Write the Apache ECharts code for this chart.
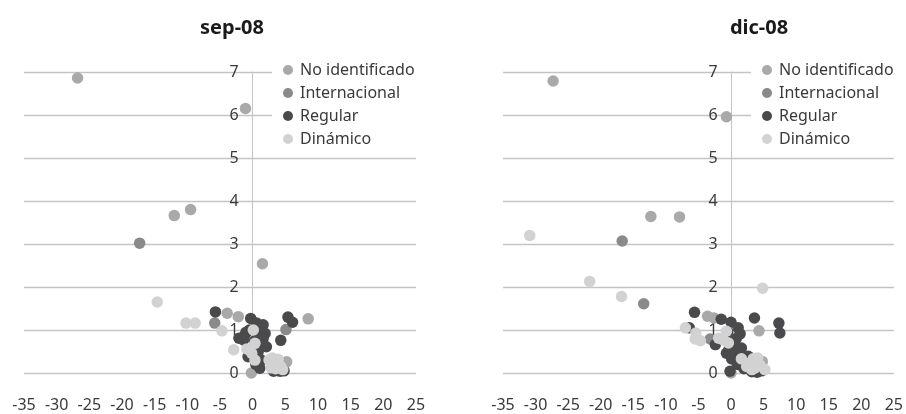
<!DOCTYPE html>
<html><head><meta charset="utf-8">
<script src="https://cdn.jsdelivr.net/npm/echarts@6/dist/echarts.min.js"></script>
<style>html,body{margin:0;padding:0;background:#fff}#c{width:906px;height:414px}</style>
</head><body><div id="c"></div>
<script>
const titles = ['sep-08', 'dic-08'];
const seriesNames = ['No identificado', 'Internacional', 'Regular', 'Dinámico'];
const xTicks = [-35, 25, 5];
const yTicks = [0, 7, 1];

const noIdSep = [[-26.8,6.86],[-1.1,6.15],[-12.0,3.66],[-9.5,3.80],[1.5,2.54],[-3.9,1.39],[-2.2,1.31],[8.5,1.26],[-0.2,0.0],[5.2,0.26]];
const intlSep = [[-17.3,3.02],[-5.8,1.16],[5.1,1.01]];
const regSep = [[-5.7,1.42],[-0.3,1.27],[0.6,1.16],[1.6,1.12],[1.9,0.92],[-1.2,0.88],[-1.4,0.77],[-2.1,0.81],[-0.5,1.0],[2.1,0.61],[0.85,0.50],[-0.7,0.38],[1.1,0.11],[5.4,1.30],[6.1,1.18],[4.3,0.76],[3.2,0.04],[4.2,0.04],[4.8,0.05],[0.3,0.75],[1.3,0.30],[-0.2,0.55],[1.6,0.80],[-1.0,0.95],[0.9,0.95],[1.4,0.70],[0.5,0.20],[3.8,0.06]];
const dynSep = [[-14.6,1.65],[-10.2,1.16],[-8.8,1.16],[-4.7,0.98],[-2.9,0.54],[0.1,1.0],[0.35,0.69],[-0.15,0.46],[0.35,0.30],[-0.9,0.56],[2.5,0.30],[3.2,0.22],[3.9,0.32],[4.3,0.15],[3.5,0.10],[2.8,0.12],[4.6,0.08],[3.0,0.35],[3.6,0.28],[4.0,0.20],[2.9,0.25]];

const noIdDic = [[-27.3,6.79],[-0.7,5.96],[-12.3,3.64],[-7.9,3.63],[-3.6,1.32],[-2.6,1.28],[4.3,0.98],[4.8,0.27],[0.0,0.0]];
const intlDic = [[-16.7,3.07],[-13.4,1.61],[-3.2,0.79]];
const regDic = [[-5.6,1.41],[-1.5,1.25],[0.0,1.18],[1.1,1.05],[1.4,0.91],[3.6,1.28],[7.35,1.16],[7.5,0.93],[-6.4,1.05],[-2.4,0.66],[0.4,0.62],[1.6,0.58],[-0.7,0.46],[0.1,0.33],[2.65,0.39],[-0.15,0.04],[-0.5,0.95],[0.8,0.8],[3.2,0.03],[4.0,0.02],[4.7,0.05],[1.0,0.2],[2.0,0.1],[0.5,0.75],[0.9,0.45],[-0.3,0.55]];
const dynDic = [[-30.9,3.20],[-21.7,2.13],[-16.8,1.78],[4.85,1.97],[-7.0,1.05],[-5.4,0.93],[-5.5,0.79],[-4.7,0.75],[-1.9,0.81],[-0.7,0.97],[-1.2,0.77],[-0.4,0.70],[1.6,0.33],[2.4,0.15],[3.4,0.33],[4.4,0.19],[5.2,0.08],[3.2,0.08],[3.9,0.27],[2.8,0.22],[3.7,0.12],[4.1,0.35]];

const colors = ['#a9a9aa', '#8a8a8c', '#4a4a4c', '#d2d2d3'];
const FONT = 'Noto Sans';
const panels = [[noIdSep, intlSep, regSep, dynSep], [noIdDic, intlDic, regDic, dynDic]];
const gridLefts = [24, 503];
const gridWidth = 392;
const titleCenters = [227, 754];
const legendLefts = [272, 751];
// y axis sits at x = 0 inside the grid
const yAxisOffset = -gridWidth * (0 - xTicks[0]) / (xTicks[1] - xTicks[0]);

const chart = echarts.init(document.getElementById('c'));
const option = {
  animation: false,
  backgroundColor: '#fff',
  color: colors,
  textStyle: { fontFamily: FONT },
  title: titles.map((t, i) => ({
    text: t, left: titleCenters[i], top: 13, textAlign: 'center',
    textStyle: { fontFamily: FONT, fontWeight: 'bold', fontSize: 20, color: '#1a1a1a' }
  })),
  grid: gridLefts.map(l => ({ left: l, width: gridWidth, top: 72, height: 301 })),
  xAxis: gridLefts.map((_, i) => ({
    type: 'value', gridIndex: i, min: xTicks[0], max: xTicks[1], interval: xTicks[2],
    axisLine: { show: false }, axisTick: { show: false }, splitLine: { show: false },
    axisLabel: { margin: 24, fontSize: 16, color: '#3a3a3a', fontFamily: FONT }
  })),
  yAxis: gridLefts.map((_, i) => ({
    type: 'value', gridIndex: i, min: yTicks[0], max: yTicks[1], interval: yTicks[2],
    position: 'left', offset: yAxisOffset,
    axisLine: { show: true, onZero: false, lineStyle: { color: '#c4c4c4', width: 1 } },
    axisTick: { show: false },
    splitLine: { show: true, lineStyle: { color: '#c4c4c4', width: 1.3 } },
    axisLabel: { margin: 14, fontSize: 16, color: '#3a3a3a', fontFamily: FONT }
  })),
  legend: legendLefts.map(l => ({
    orient: 'vertical', left: l, top: 58, data: seriesNames,
    icon: 'circle', itemWidth: 10, itemHeight: 10, itemGap: 5,
    backgroundColor: '#fff', padding: [3, 20, 6, 11],
    textStyle: { fontSize: 16, color: '#3a3a3a', fontFamily: FONT, lineHeight: 18, padding: [0, 0, 0, 2] }
  })),
  series: []
};
panels.forEach((sets, p) => {
  sets.forEach((d, k) => {
    option.series.push({
      type: 'scatter', name: seriesNames[k], xAxisIndex: p, yAxisIndex: p,
      data: d, symbolSize: 11.5, itemStyle: { color: colors[k], opacity: 1 }
    });
  });
});
chart.setOption(option);
</script></body></html>
